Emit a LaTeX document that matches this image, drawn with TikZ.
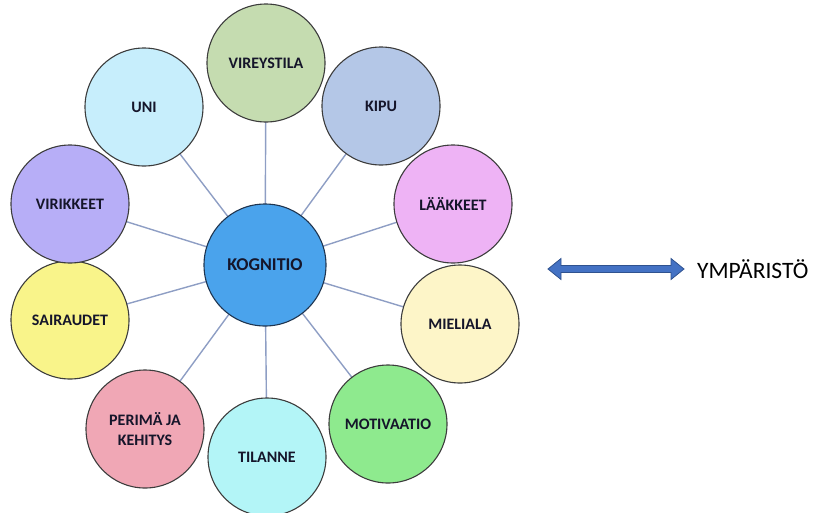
\documentclass[tikz,border=0pt]{standalone}
\usepackage{fontspec}
\setmainfont{Carlito}
\definecolor{txt}{HTML}{15152A}
\definecolor{edge}{HTML}{3C3C3C}
\definecolor{conn}{HTML}{8E9EC4}
\definecolor{cKOG}{HTML}{4AA3EC}
\definecolor{cKOGe}{HTML}{1F3550}
\definecolor{cVIR}{HTML}{C5DCB0}
\definecolor{cKIP}{HTML}{B4C7E7}
\definecolor{cLAA}{HTML}{EEB3F5}
\definecolor{cMIE}{HTML}{FDF5C8}
\definecolor{cMOT}{HTML}{8EEA8E}
\definecolor{cTIL}{HTML}{B3F5F7}
\definecolor{cPER}{HTML}{F0A7B5}
\definecolor{cSAI}{HTML}{F9F48A}
\definecolor{cVRK}{HTML}{B7AEF7}
\definecolor{cUNI}{HTML}{C7EEFC}
\definecolor{arrfill}{HTML}{4472C4}
\definecolor{arredge}{HTML}{2F528F}
\tikzset{
  bubble/.style={circle, draw=edge, line width=1.1pt, minimum size=118pt, inner sep=0pt,
     font=\bfseries\fontsize{16}{20}\selectfont, text=txt, align=center},
  hub/.style={bubble, draw=cKOGe, minimum size=122pt, font=\bfseries\fontsize{18}{21}\selectfont},
  link/.style={draw=conn, line width=1.4pt},
  label/.style={font=\fontsize{23.5}{28}\selectfont, text=black, anchor=west, inner sep=0pt}
}
\begin{document}
\begin{tikzpicture}[x=1pt,y=-1pt]
\useasboundingbox (0,0) rectangle (819,512);
\coordinate (k) at (265,265);
\coordinate (p1) at (266,63);
\coordinate (p2) at (381,106);
\coordinate (p3) at (453,204);
\coordinate (p4) at (460,324);
\coordinate (p5) at (388,424);
\coordinate (p6) at (267,457);
\coordinate (p7) at (145,429);
\coordinate (p8) at (70,320);
\coordinate (p9) at (70,204);
\coordinate (p10) at (144,107);
\foreach \i in {1,...,10} {\draw[link] (k) -- (p\i);}
\node[bubble, fill=cVIR] (vir) at (p1) {VIREYSTILA};
\node[bubble, fill=cKIP] (kip) at (p2) {KIPU};
\node[bubble, fill=cLAA] (laa) at (p3) {LÄÄKKEET};
\node[bubble, fill=cMIE] (mie) at (p4) {MIELIALA};
\node[bubble, fill=cMOT] (mot) at (p5) {MOTIVAATIO};
\node[bubble, fill=cTIL] (til) at (p6) {TILANNE};
\node[bubble, fill=cPER] (per) at (p7) {PERIMÄ JA\\KEHITYS};
\node[bubble, fill=cSAI] (sai) at (p8) {SAIRAUDET};
\node[bubble, fill=cVRK] (vrk) at (p9) {VIRIKKEET};
\node[bubble, fill=cUNI] (uni) at (p10) {UNI};
\node[hub, fill=cKOG] (kog) at (k) {KOGNITIO};
% double block arrow
\draw[fill=arrfill, draw=arredge, line width=0.8pt, line join=miter]
  (548,269) -- (561,258.5) -- (561,265.5) -- (671,265.5) -- (671,258.5) -- (684,269)
  -- (671,279.5) -- (671,272.5) -- (561,272.5) -- (561,279.5) -- cycle;
\node[label] (ymp) at (697,269) {YMPÄRISTÖ};
\end{tikzpicture}
\end{document}
